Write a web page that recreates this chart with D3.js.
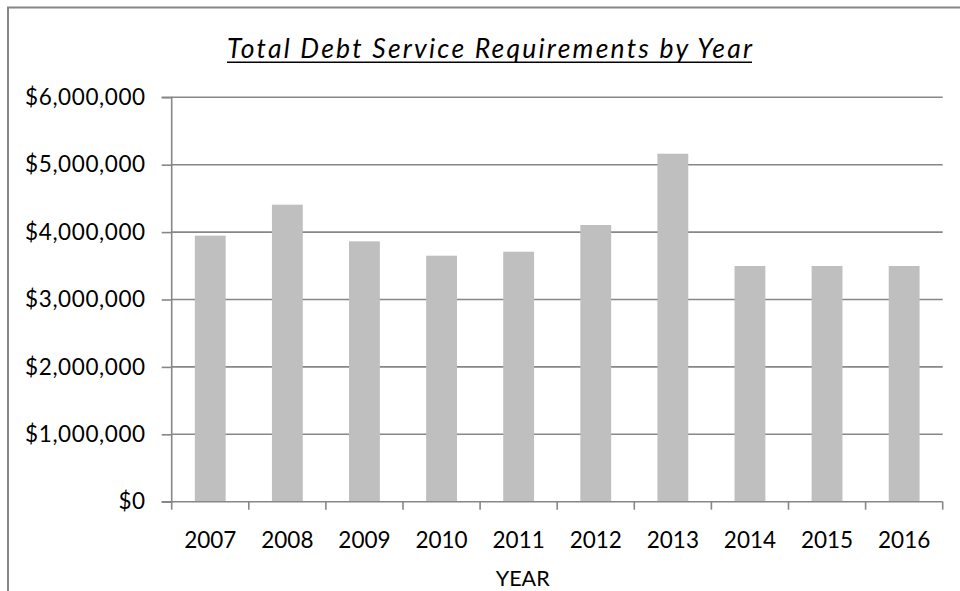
<!DOCTYPE html>
<html>
<head>
<meta charset="utf-8">
<script src="https://cdn.jsdelivr.net/npm/d3@7"></script>
<style>
  html, body { margin: 0; padding: 0; background: #fff; }
  svg { display: block; }
</style>
</head>
<body>
<script>
const years = ["2007","2008","2009","2010","2011","2012","2013","2014","2015","2016"];
const debtService = [3947000, 4407000, 3863000, 3650000, 3709000, 4105000, 5163000, 3497000, 3497000, 3497000];
const yTicks = [0, 1000000, 2000000, 3000000, 4000000, 5000000, 6000000];
const titleText = "Total Debt Service Requirements by Year";
const xTitle = "YEAR";

(function () {
const W = 960, H = 591;
const FONT = "Lato, 'Open Sans', sans-serif";
const svg = d3.select("body").append("svg").attr("width", W).attr("height", H);

// outer frame
svg.append("rect").attr("x", 8).attr("y", 7.5).attr("width", 980).attr("height", 620)
  .attr("fill", "none").attr("stroke", "#868686").attr("stroke-width", 2);

const pLeft = 171.7, pRight = 942.7, pTop = 97.3, pBottom = 501.7;

const x = d3.scaleBand().domain(years).range([pLeft, pRight]).paddingInner(0.6).paddingOuter(0.3);
const y = d3.scaleLinear().domain([0, 6000000]).range([pBottom, pTop]);

// gridlines
svg.append("g").selectAll("line").data(yTicks.filter(d => d > 0)).join("line")
  .attr("x1", pLeft).attr("x2", pRight)
  .attr("y1", d => y(d)).attr("y2", d => y(d))
  .attr("stroke", "#878787").attr("stroke-width", 1.6);

// bars
svg.append("g").selectAll("rect").data(years).join("rect")
  .attr("x", d => x(d)).attr("width", x.bandwidth())
  .attr("y", (d, i) => y(debtService[i]))
  .attr("height", (d, i) => y(0) - y(debtService[i]))
  .attr("fill", "#bfbfbf");

// y axis
const fmt = d => "$" + d3.format(",")(d);
const yAxis = d3.axisLeft(y).tickValues(yTicks).tickFormat(fmt).tickSize(10).tickPadding(16);
const gy = svg.append("g").attr("transform", `translate(${pLeft},0)`).call(yAxis);
gy.select(".domain").attr("stroke", "#878787").attr("stroke-width", 1.6).attr("d", `M-10,${pTop}H0V${pBottom}H-10`);
gy.selectAll(".tick line").attr("stroke", "#878787").attr("stroke-width", 1.6);
gy.selectAll(".tick text").attr("font-family", FONT).attr("font-size", 22.5).attr("fill", "#000")
  .attr("letter-spacing", 0.6);

// x axis baseline
svg.append("line").attr("x1", pLeft).attr("x2", pRight).attr("y1", pBottom).attr("y2", pBottom)
  .attr("stroke", "#878787").attr("stroke-width", 1.6);
// category boundary ticks
const step = x.step();
svg.append("g").selectAll("line").data(d3.range(years.length + 1)).join("line")
  .attr("x1", i => pLeft + i * step).attr("x2", i => pLeft + i * step)
  .attr("y1", pBottom).attr("y2", pBottom + 8)
  .attr("stroke", "#878787").attr("stroke-width", 1.6);
// x labels
svg.append("g").selectAll("text").data(years).join("text")
  .attr("x", d => x(d) + x.bandwidth() / 2).attr("y", 547.5)
  .attr("text-anchor", "middle").attr("font-family", FONT).attr("font-size", 22.5).attr("fill", "#000")
  .text(d => d);

// x axis title
svg.append("text").attr("x", 522.7).attr("y", 585.5).attr("text-anchor", "middle")
  .attr("font-family", FONT).attr("font-size", 21.5).attr("fill", "#000").text(xTitle);

// title
const tX0 = 227, tW = 525;
svg.append("text").attr("x", tX0).attr("y", 57.5)
  .attr("font-family", FONT).attr("font-size", 26.5).attr("font-style", "italic").attr("fill", "#000")
  .attr("textLength", tW).attr("lengthAdjust", "spacing")
  .text(titleText);
svg.append("line").attr("x1", tX0).attr("x2", tX0 + tW).attr("y1", 62.3).attr("y2", 62.3)
  .attr("stroke", "#000").attr("stroke-width", 1.6);
})();
</script>
</body>
</html>
